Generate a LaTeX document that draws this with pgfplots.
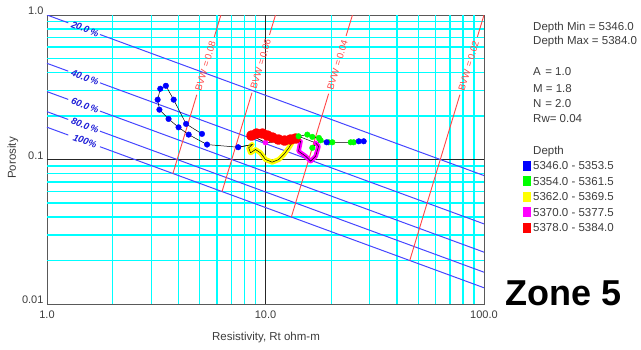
\documentclass[border=0pt]{standalone}
\usepackage{fontspec}
\setmainfont{Liberation Sans}
\usepackage{pgfplots}
\usepackage{pgfplotstable}
\pgfplotsset{compat=1.18}
\definecolor{txt}{HTML}{3C3C3C}
\definecolor{satblue}{RGB}{70,70,255}
\definecolor{bvwred}{RGB}{255,70,70}
\definecolor{lblblue}{RGB}{30,30,215}
\definecolor{gridcyan}{RGB}{0,255,255}
\definecolor{dblue}{RGB}{0,0,255}
\definecolor{dgreen}{RGB}{0,255,0}
\definecolor{dyellow}{RGB}{255,255,0}
\definecolor{dmag}{RGB}{255,0,255}
\definecolor{dred}{RGB}{255,0,0}
\tikzset{satlbl/.style={pos=0.087, sloped, inner sep=0pt, text=lblblue, font=\fontsize{9.5}{10}\selectfont\bfseries\itshape},
  bvwlbl/.style={sloped, inner sep=0pt, text=bvwred, font=\fontsize{9.5}{10}\selectfont}}
\pgfplotsset{satline/.style={satblue, line width=1pt, forget plot},
  bvwline/.style={bvwred, line width=0.9pt, forget plot},
  cyangrid/.style={gridcyan, line width=1.4pt, forget plot},
  blackgrid/.style={black!85, line width=0.9pt, forget plot}}

\pgfplotstableread{
x y
5.12 0.1504
4.33 0.1763
3.80 0.2594
3.50 0.3238
3.30 0.3088
3.21 0.2594
3.27 0.2212
3.60 0.1909
4.00 0.1670
4.45 0.1487
5.40 0.1269
7.50 0.1216
19.05 0.1316
26.72 0.1337
28.15 0.1337
}\bluetab

\pgfplotstableread{
x y
8.69 0.1269
8.38 0.1204
8.54 0.1112
9.00 0.1172
9.49 0.1112
10.0 0.1000
10.73 0.0958
11.51 0.1000
12.13 0.1083
12.79 0.1204
13.26 0.1316
}\yellowtab

\pgfplotstableread{
x y
13.73 0.1396
13.02 0.1374
12.23 0.1352
11.47 0.1374
10.77 0.1418
10.21 0.1464
9.69 0.1511
9.09 0.1511
8.63 0.1464
}\redtab

\pgfplotstableread{
x y
13.44 0.1358
14.47 0.1337
14.17 0.1141
15.26 0.1054
16.09 0.0973
16.96 0.1054
17.50 0.1235
16.96 0.1303
}\magtab

\pgfplotstableread{
x y
14.17 0.1448
15.54 0.1487
16.38 0.1434
17.56 0.1411
16.38 0.1204
17.88 0.1358
19.45 0.1316
20.23 0.1316
24.55 0.1316
25.33 0.1316
}\greentab

\pgfplotstableread{
x y
5.12 0.1504
4.33 0.1763
3.80 0.2594
3.50 0.3238
3.30 0.3088
3.21 0.2594
3.27 0.2212
3.60 0.1909
4.00 0.1670
4.45 0.1487
5.40 0.1269
7.50 0.1216
8.69 0.1269
8.38 0.1204
8.54 0.1112
9.00 0.1172
9.49 0.1112
10.0 0.1000
10.73 0.0958
11.51 0.1000
12.13 0.1083
12.79 0.1204
13.26 0.1316
13.73 0.1396
13.02 0.1374
12.23 0.1352
11.47 0.1374
10.77 0.1418
10.21 0.1464
9.69 0.1511
9.09 0.1511
8.63 0.1464
10.0 0.1310
13.44 0.1358
14.47 0.1337
14.17 0.1141
15.26 0.1054
16.09 0.0973
16.96 0.1054
17.50 0.1235
16.96 0.1303
14.17 0.1448
15.54 0.1487
16.38 0.1434
17.56 0.1411
16.38 0.1204
17.88 0.1358
19.05 0.1316
19.45 0.1316
20.23 0.1316
24.55 0.1316
25.33 0.1316
26.72 0.1337
28.15 0.1337
}\pathtab

\pgfplotstableread{
x y
7.50 0.1216
8.69 0.1269
8.38 0.1204
8.54 0.1112
9.00 0.1172
9.49 0.1112
10.0 0.1000
10.73 0.0958
11.51 0.1000
12.13 0.1083
12.79 0.1204
13.26 0.1316
13.73 0.1396
13.02 0.1374
12.23 0.1352
11.47 0.1374
10.77 0.1418
10.21 0.1464
9.69 0.1511
9.09 0.1511
8.63 0.1464
10.0 0.1310
13.44 0.1358
14.47 0.1337
14.17 0.1141
15.26 0.1054
16.09 0.0973
16.96 0.1054
17.50 0.1235
16.96 0.1303
}\toppathtab

\begin{document}
\begin{tikzpicture}
\path[use as bounding box] (0,0) rectangle (641pt,349pt);
\begin{axis}[
  at={(47pt,45pt)}, anchor=south west,
  scale only axis, width=437pt, height=289pt,
  xmode=log, ymode=log,
  xmin=1, xmax=100, ymin=0.01, ymax=1,
  xtick={1,10,100}, xticklabels={1.0,10.0,100.0},
  ytick={0.01,0.1,1}, yticklabels={0.01,0.1,1.0},
  minor xtick={}, minor ytick={},
  grid=none,
  major tick length=0pt, minor tick length=0pt,
  axis line style={black!65, line width=0.9pt},
  tick label style={font=\fontsize{11}{13}\selectfont, text=txt},
  xticklabel style={yshift=-3.4pt},
  yticklabel style={yshift=4pt},
]
% grid
\pgfplotsinvokeforeach{2,3,4,5,6,7,8,9,20,30,40,50,60,70,80,90}{
  \addplot[cyangrid] coordinates {(#1,0.01) (#1,1)};
}
\pgfplotsinvokeforeach{0.02,0.03,0.04,0.05,0.06,0.07,0.08,0.09,0.2,0.3,0.4,0.5,0.6,0.7,0.8,0.9}{
  \addplot[cyangrid] coordinates {(1,#1) (100,#1)};
}
\addplot[blackgrid] coordinates {(10,0.01) (10,1)};
\addplot[blackgrid] coordinates {(1,0.1) (100,0.1)};
% saturation lines (drawn in two parts, around their labels)
\addplot[satline] coordinates {(1,1) (1.251,0.8829)};
\addplot[satline] coordinates {(1.748,0.7329) (100,0.07743)};
\addplot[draw=none, forget plot] coordinates {(1,1) (100,0.07743)} node[satlbl]{20.0\,\%};
\addplot[satline] coordinates {(1,0.46294) (1.251,0.40873)};
\addplot[satline] coordinates {(1.748,0.33929) (100,0.035846)};
\addplot[draw=none, forget plot] coordinates {(1,0.46294) (100,0.035846)} node[satlbl]{40.0\,\%};
\addplot[satline] coordinates {(1,0.29504) (1.251,0.26049)};
\addplot[satline] coordinates {(1.748,0.21624) (100,0.022845)};
\addplot[draw=none, forget plot] coordinates {(1,0.29504) (100,0.022845)} node[satlbl]{60.0\,\%};
\addplot[satline] coordinates {(1,0.21433) (1.251,0.18923)};
\addplot[satline] coordinates {(1.748,0.15708) (100,0.016596)};
\addplot[draw=none, forget plot] coordinates {(1,0.21433) (100,0.016596)} node[satlbl]{80.0\,\%};
\addplot[satline] coordinates {(1,0.16725) (1.251,0.14767)};
\addplot[satline] coordinates {(1.748,0.12258) (100,0.012951)};
\addplot[draw=none, forget plot] coordinates {(1,0.16725) (100,0.012951)} node[satlbl]{100\%};
% BVW lines
\addplot[bvwline] coordinates {(3.770,0.08) (4.846,0.2804)};
\addplot[bvwline] coordinates {(5.829,0.7045) (6.25,1)};
\addplot[draw=none, forget plot] coordinates {(3.770,0.08) (6.25,1)} node[bvwlbl, pos=0.679]{BVW = 0.08};
\addplot[bvwline] coordinates {(6.326,0.06) (8.674,0.2900)};
\addplot[bvwline] coordinates {(10.428,0.7282) (11.111,1)};
\addplot[draw=none, forget plot] coordinates {(6.326,0.06) (11.111,1)} node[bvwlbl, pos=0.7236]{BVW = 0.06};
\addplot[bvwline] coordinates {(13.133,0.04) (19.45,0.2851)};
\addplot[bvwline] coordinates {(23.38,0.7163) (25,1)};
\addplot[draw=none, forget plot] coordinates {(13.133,0.04) (25,1)} node[bvwlbl, pos=0.7533]{BVW = 0.04};
\addplot[bvwline] coordinates {(45.73,0.02) (77.57,0.2807)};
\addplot[bvwline] coordinates {(93.26,0.7050) (100,1)};
\addplot[draw=none, forget plot] coordinates {(45.73,0.02) (100,1)} node[bvwlbl, pos=0.793]{BVW = 0.02};
% data
\addplot[black, line width=0.5pt, forget plot] table[x=x,y=y] {\pathtab};
\addplot[dyellow, line width=5pt, line join=round, line cap=round, forget plot] table[x=x,y=y] {\yellowtab};
\addplot[dmag, line width=4.5pt, line join=round, line cap=round, forget plot] table[x=x,y=y] {\magtab};
\addplot[dmag, only marks, mark=*, mark size=2.6pt, forget plot] coordinates {(10.0,0.1310)};
\addplot[dred, line width=5pt, line join=round, line cap=round, mark=*, mark size=2.8pt, forget plot] table[x=x,y=y] {\redtab};
\addplot[black, line width=0.5pt, forget plot] table[x=x,y=y] {\toppathtab};
\addplot[dgreen, only marks, mark=*, mark size=2.8pt, forget plot] table[x=x,y=y] {\greentab};
\addplot[dblue, only marks, mark=*, mark size=2.8pt, forget plot] table[x=x,y=y] {\bluetab};
\end{axis}
\begin{scope}[every node/.style={anchor=base west, inner sep=0pt, text=txt, font=\fontsize{11.5}{13}\selectfont}]
\node at (533pt,318.5pt) {Depth Min = 5346.0};
\node at (533pt,304.5pt) {Depth Max = 5384.0};
\node at (533pt,273pt) {\makebox[1.05em][l]{A}= 1.0};
\node at (533pt,257pt) {\makebox[1.1em][l]{M}= 1.8};
\node at (533pt,241pt) {\makebox[1.05em][l]{N}= 2.0};
\node at (533pt,226pt) {Rw= 0.04};
\node at (533pt,194.3pt) {Depth};
\node at (523pt,179.3pt) {\textcolor{dblue}{\rule[-1pt]{8pt}{10pt}}\hspace{2pt}5346.0 - 5353.5};
\node at (523pt,163.8pt) {\textcolor{dgreen}{\rule[-1pt]{8pt}{10pt}}\hspace{2pt}5354.0 - 5361.5};
\node at (523pt,148.3pt) {\textcolor{dyellow}{\rule[-1pt]{8pt}{10pt}}\hspace{2pt}5362.0 - 5369.5};
\node at (523pt,132.8pt) {\textcolor{dmag}{\rule[-1pt]{8pt}{10pt}}\hspace{2pt}5370.0 - 5377.5};
\node at (523pt,117.3pt) {\textcolor{dred}{\rule[-1pt]{8pt}{10pt}}\hspace{2pt}5378.0 - 5384.0};
\end{scope}
\node[anchor=base, inner sep=0pt, font=\fontsize{36}{40}\selectfont\bfseries] at (563.5pt,44pt) {Zone 5};
\node[inner sep=0pt, text=txt, font=\fontsize{11.5}{13}\selectfont] at (266pt,11pt) {Resistivity, Rt ohm-m};
\node[inner sep=0pt, rotate=90, text=txt, font=\fontsize{11.5}{13}\selectfont] at (13pt,191pt) {Porosity};
\end{tikzpicture}
\end{document}
